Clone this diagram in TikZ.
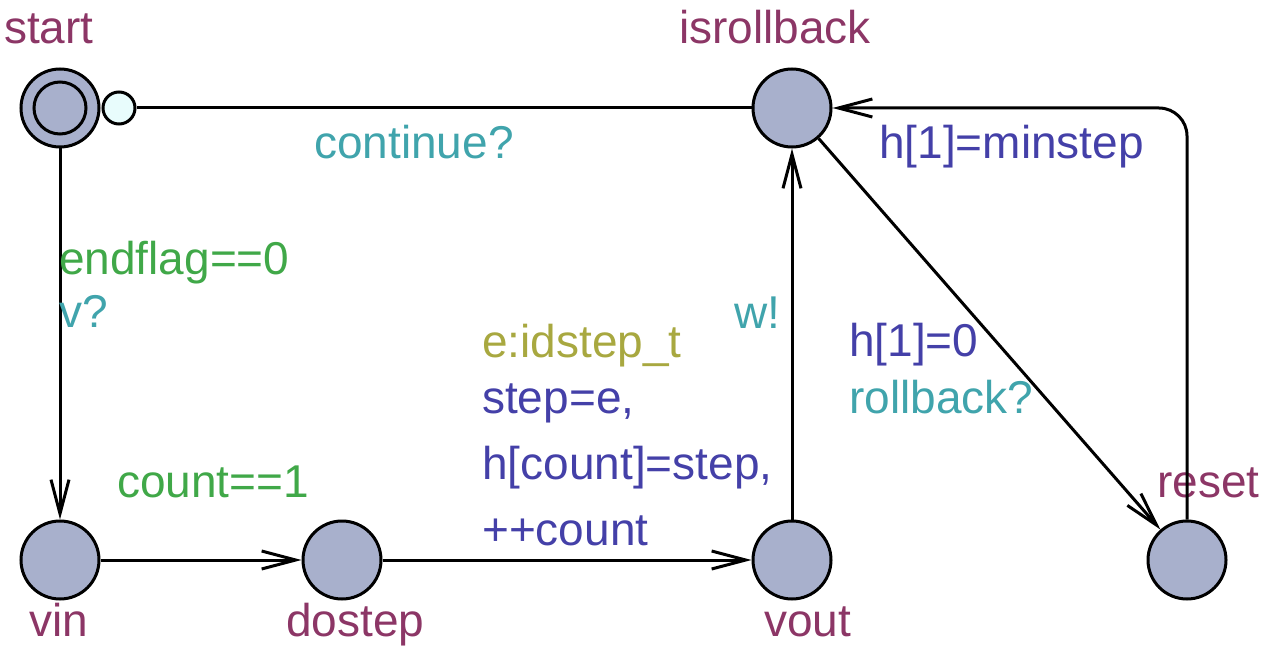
\documentclass[tikz,border=0pt]{standalone}
\usepackage{fontspec}
\setmainfont{Liberation Sans}
\usetikzlibrary{arrows.meta}
\definecolor{locname}{RGB}{140,54,102}
\definecolor{guardc}{RGB}{64,168,72}
\definecolor{syncc}{RGB}{64,164,172}
\definecolor{updc}{RGB}{68,64,168}
\definecolor{selc}{RGB}{168,168,64}
\definecolor{locfill}{RGB}{168,176,204}
\definecolor{markfill}{RGB}{232,252,252}
\begin{document}
\begin{tikzpicture}[x=1pt,y=-1pt,
  loc/.style={circle,draw=black,line width=3pt,fill=locfill,minimum size=78pt,inner sep=0pt},
  initmark/.style={circle,draw=black,line width=3pt,fill=markfill,minimum size=32pt,inner sep=0pt},
  lbl/.style={anchor=base west,inner sep=0pt,font=\fontsize{46pt}{55pt}\selectfont},
  lname/.style={lbl,text=locname},
  guard/.style={lbl,text=guardc},
  sync/.style={lbl,text=syncc},
  upd/.style={lbl,text=updc},
  sel/.style={lbl,text=selc},
  edge/.style={line width=3pt,-{Straight Barb[length=34pt,width=18pt,line width=3pt]}},
  plain/.style={line width=3pt}]
\useasboundingbox (0,0) rectangle (1266,650);

% locations
\node[loc] (start) at (60,108) {};
\draw[line width=3pt] (start.center) circle (26pt);
\node[initmark] (urg) at (119,108) {};
\node[loc] (isr) at (792,108) {};
\node[loc] (vin) at (60,560) {};
\node[loc] (dostep) at (342,560) {};
\node[loc] (vout) at (792,560) {};
\node[loc] (reset) at (1187,560) {};

% location names
\node[lname] (nstart) at (4,44) {start};
\node[lname] (nisr) at (679,44) {isrollback};
\node[lname] (nvin) at (29,636) {vin};
\node[lname] (ndostep) at (286,636) {dostep};
\node[lname] (nvout) at (764,636) {vout};
\node[lname] (nreset) at (1157,497) {reset};

% transitions
\draw[plain] (isr) -- (urg);
\draw[edge] (start) -- (vin);
\draw[edge] (vin) -- (dostep);
\draw[edge] (dostep) -- (vout);
\draw[edge] (vout) -- (isr);
\draw[edge] (isr) -- (reset);
\draw[edge,rounded corners=28pt] (reset.north) |- (isr.east);

% transition labels
\node[sync] (lcont) at (314,158) {continue?};
\node[upd] (lmin) at (879,158) {h[1]=minstep};
\node[guard] (lendf) at (59,274) {endflag==0};
\node[sync] (lv) at (59,327) {v?};
\node[sync] (lw) at (734,328) {w!};
\node[sel] (lsel) at (482,357) {e:idstep\_t};
\node[upd] (lstep) at (482,413) {step=e,};
\node[upd] (lh) at (482,479) {h[count]=step,};
\node[upd] (linc) at (482,545) {++count};
\node[guard] (lcount) at (117,497) {count==1};
\node[upd] (lh1) at (849,356) {h[1]=0};
\node[sync] (lrb) at (849,413) {rollback?};
\end{tikzpicture}
\end{document}
